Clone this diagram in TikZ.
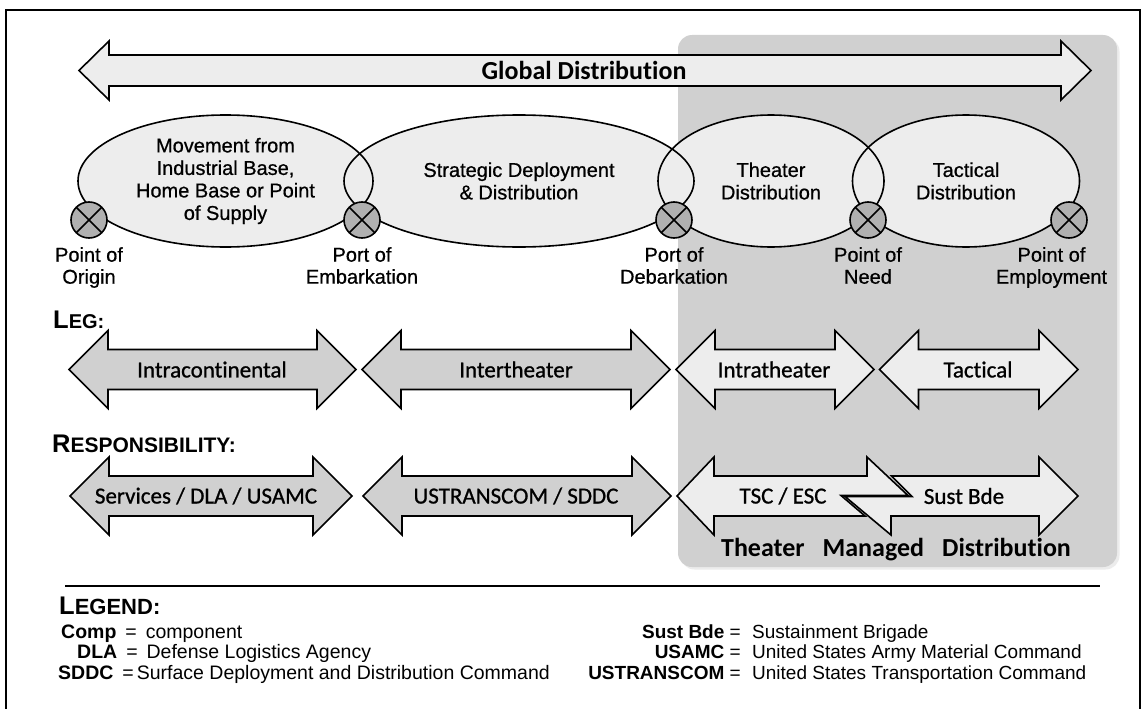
\documentclass[tikz,border=0pt]{standalone}
\usepackage{fontspec}
\setmainfont{Liberation Sans}
\newfontfamily\calfont[Ligatures=NoCommon]{Carlito}
\usetikzlibrary{positioning,shapes.geometric,calc,shadows}

\definecolor{lightfill}{HTML}{EDEDED}
\definecolor{zonefill}{HTML}{D0D0D0}
\definecolor{portfill}{HTML}{B0B0B0}

\tikzset{
  outline/.style={draw=black, line width=1.6pt, line join=miter},
  region/.style={ellipse, fill=lightfill, inner sep=0pt, outer sep=0pt, align=center,
    font=\fontsize{20}{22.5}\selectfont\addfontfeature{FakeBold=0.7}},
  port/.style={circle, draw, line width=1.6pt, fill=portfill, minimum size=36pt, inner sep=0pt, outer sep=0pt},
  portlabel/.style={below=9pt of #1, inner sep=0pt, align=center,
    font=\fontsize{20}{22}\selectfont\addfontfeature{FakeBold=0.7}},
  leglabel/.style={inner sep=0pt, font=\calfont\fontsize{23}{23}\selectfont\addfontfeature{FakeBold=0.9}},
  heading/.style={anchor=base west, inner sep=0pt, font=\bfseries},
  legendtext/.style={inner sep=0pt, font=\fontsize{19.5}{21}\selectfont},
  legendright/.style={inner sep=0pt, font=\fontsize{19}{21}\selectfont}
}

% double arrow: fill, left tip, right tip, centre y, head length, shaft half, head half
\newcommand\dblarrow[7]{%
  \draw[outline, fill=#1] (#2,#4) -- ({#2+#5},{#4-#7}) -- ({#2+#5},{#4-#6}) -- ({#3-#5},{#4-#6})
    -- ({#3-#5},{#4-#7}) -- (#3,#4) -- ({#3-#5},{#4+#7}) -- ({#3-#5},{#4+#6})
    -- ({#2+#5},{#4+#6}) -- ({#2+#5},{#4+#7}) -- cycle;}
\newcommand\headsc[3][21]{{\fontsize{25.5}{25}\selectfont #2}{\fontsize{#1}{19}\selectfont #3}}

\begin{document}
\begin{tikzpicture}[x=1pt, y=-1pt]
\useasboundingbox (0,0) rectangle (1146,709);
\fill[white] (0,0) rectangle (1146,709);
\draw[line width=2pt] (6,709) -- (6,10) -- (1140,10) -- (1140,709);

% theater managed zone
\fill[zonefill, rounded corners=14pt, drop shadow={opacity=0.15, shadow xshift=2.5pt, shadow yshift=-2.5pt}]
  (678,35) rectangle (1117,567);

% global distribution
\dblarrow{lightfill}{79}{1091}{70.5}{30}{15.5}{29.5}
\node[inner sep=0pt, font=\calfont\bfseries\fontsize{26}{26}\selectfont] (global) at (584,70.5) {Global Distribution};

% regions
\node[region, minimum width=295pt, minimum height=132pt] (movement) at (225.5,181) {Movement from\\Industrial Base,\\Home Base or Point\\of Supply};
\node[region, minimum width=350pt, minimum height=132pt] (strategic) at (519,181) {Strategic Deployment\\\& Distribution};
\node[region, minimum width=226pt, minimum height=132pt] (theater) at (771,181) {Theater\\Distribution};
\node[region, minimum width=227pt, minimum height=132pt] (tactical) at (966,181) {Tactical\\Distribution};
\foreach \r in {movement,strategic,theater,tactical}
  \draw[outline] let \p1=(\r.east), \p2=(\r.north), \p3=(\r.center) in
    (\p3) ellipse [x radius={\x1-\x3}, y radius={\y2-\y3}];

% ports
\node[port] (origin) at (89,220) {};
\node[port] (embark) at (362,220) {};
\node[port] (debark) at (674,220) {};
\node[port] (need) at (868,220) {};
\node[port] (employ) at (1069,220) {};
\foreach \r in {origin,embark,debark,need,employ}
  \draw[line width=1.6pt] (\r.north west) -- (\r.south east) (\r.north east) -- (\r.south west);

\node[portlabel=origin] (originlbl) {Point of\\Origin};
\node[portlabel=embark] (embarklbl) {Port of\\Embarkation};
\node[portlabel=debark] (debarklbl) {Port of\\Debarkation};
\node[portlabel=need] (needlbl) {Point of\\Need};
\node[portlabel=employ, xshift=-17.5pt] (employlbl) {Point of\\Employment};

% leg
\node[heading] (leghead) at (53,328) {\headsc[20]{L}{EG:}};
\dblarrow{zonefill}{69}{356}{369.5}{39}{20}{39}
\dblarrow{zonefill}{362}{670}{369.5}{39}{20}{39}
\dblarrow{lightfill}{676}{874}{369.5}{39}{20}{39}
\dblarrow{lightfill}{879.5}{1078}{369.5}{39}{20}{39}
\node[leglabel] (intracont) at (212,369.5) {Intracontinental};
\node[leglabel] (intertheater) at (516,369.5) {Intertheater};
\node[leglabel] (intratheater) at (774,369.5) {Intratheater};
\node[leglabel] (tacticalleg) at (978,369.5) {Tactical};

% responsibility
\node[heading] (resphead) at (52,452) {\headsc{R}{ESPONSIBILITY:}};
\dblarrow{zonefill}{70}{352}{496}{39}{20}{39}
\dblarrow{zonefill}{363}{671}{496}{39}{20}{39}
\draw[outline, fill=lightfill] (677,496) -- (714,457) -- (714,476) -- (867,476) -- (867,457) -- (908,495.5)
  -- (841,495.5) -- (865,516) -- (714,516) -- (714,535) -- cycle;
\draw[outline, fill=lightfill] (891.5,476) -- (1039,476) -- (1039,457) -- (1078,496) -- (1039,535) -- (1039,516)
  -- (891,516) -- (891,535) -- (845,496.5) -- (912,496.5) -- cycle;
\node[leglabel] (services) at (206,496) {Services / DLA / USAMC};
\node[leglabel] (transcom) at (516,496) {USTRANSCOM / SDDC};
\node[leglabel] (tsc) at (783,496) {TSC / ESC};
\node[leglabel] (sustbde) at (964,496) {Sust Bde};
\node[anchor=base, inner sep=0pt, font=\calfont\bfseries\fontsize{26}{26}\selectfont] (managed) at (896,556)
  {Theater\hspace{18pt}Managed\hspace{18pt}Distribution};

% legend
\draw[line width=1.4pt] (65,586) -- (1100,586);
\node[heading] (legendhead) at (59,614) {\headsc[22]{L}{EGEND:}};
\node[legendtext, anchor=base west] (comp) at (61,638) {\textbf{Comp}\hspace{9pt}=\hspace{9pt}component};
\node[legendtext, anchor=base west] (dla) at (77,658) {\textbf{DLA}\hspace{9pt}=\hspace{9pt}Defense Logistics Agency};
\node[legendtext, anchor=base west] (sddc) at (58,679) {\textbf{SDDC}\hspace{9pt}=\hspace{3pt}Surface Deployment and Distribution Command};
\node[legendright, anchor=base east] (sustkey) at (741,638) {\textbf{Sust Bde} =};
\node[legendright, anchor=base east] (usamckey) at (741,658) {\textbf{USAMC} =};
\node[legendright, anchor=base east] (transkey) at (741,679) {\textbf{USTRANSCOM} =};
\node[legendright, anchor=base west] (sustval) at (752,638) {Sustainment Brigade};
\node[legendright, anchor=base west] (usamcval) at (752,658) {United States Army Material Command};
\node[legendright, anchor=base west] (transval) at (752,679) {United States Transportation Command};
\end{tikzpicture}
\end{document}
